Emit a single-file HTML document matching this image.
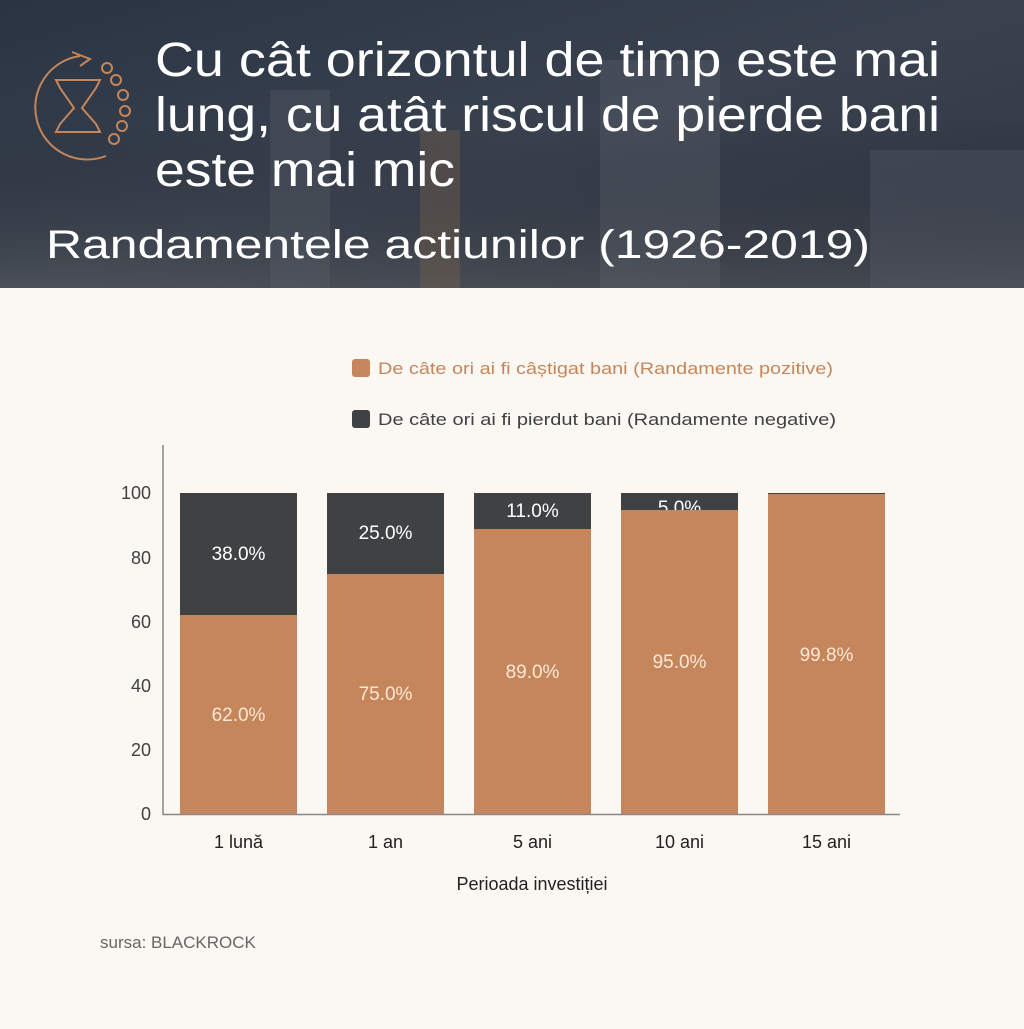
<!DOCTYPE html>
<html><head><meta charset="utf-8"><style>
body{margin:0;width:1024px;height:1024px;overflow:hidden;background:#fbf7f3;font-family:"Liberation Sans","DejaVu Sans",sans-serif}
</style></head><body>
<svg width="1024" height="1024" viewBox="0 0 1024 1024" xmlns="http://www.w3.org/2000/svg">
<defs>
<linearGradient id="hg" x1="0" y1="0" x2="1" y2="1">
<stop offset="0" stop-color="#2a3442"/><stop offset="0.5" stop-color="#3a4250"/><stop offset="1" stop-color="#2e3440"/>
</linearGradient>
<linearGradient id="hv" x1="0" y1="0" x2="0" y2="1">
<stop offset="0" stop-color="#000" stop-opacity="0"/><stop offset="1" stop-color="#6a6a6a" stop-opacity="0.35"/>
</linearGradient>
</defs>
<rect x="0" y="0" width="1024" height="288" fill="url(#hg)"/>
<rect x="0" y="120" width="1024" height="168" fill="url(#hv)"/>
<rect x="270" y="90" width="60" height="198" fill="#5a5e66" opacity="0.35"/>
<rect x="420" y="130" width="40" height="158" fill="#8a6a4a" opacity="0.3"/>
<rect x="600" y="60" width="120" height="228" fill="#6a6e76" opacity="0.25"/>
<rect x="870" y="150" width="154" height="138" fill="#5e6470" opacity="0.3"/>
<g fill="none" stroke="#c4865a" stroke-width="2">
<path d="M80 56 A52 52 0 1 0 106 156"/>
<path d="M72 52 L90 59 L80 66"/>
<path d="M56 80 L100 80 L96 88 L82 108 L96 124 L100 132 L56 132 L60 124 L74 108 L60 88 Z"/>
<circle cx="107" cy="68" r="5"/><circle cx="116" cy="80" r="5"/><circle cx="123" cy="95" r="5"/><circle cx="125" cy="111" r="5"/><circle cx="122" cy="126" r="5"/><circle cx="114" cy="139" r="5"/>
</g>
<g fill="#ffffff" font-size="48">
<text x="155" y="76" textLength="785" lengthAdjust="spacingAndGlyphs">Cu cât orizontul de timp este mai</text>
<text x="155" y="131" textLength="785" lengthAdjust="spacingAndGlyphs">lung, cu atât riscul de pierde bani</text>
<text x="155" y="186" textLength="300" lengthAdjust="spacingAndGlyphs">este mai mic</text>
</g>
<text x="46" y="258" fill="#ffffff" font-size="40" textLength="824" lengthAdjust="spacingAndGlyphs">Randamentele actiunilor (1926-2019)</text>

<rect x="352" y="359" width="18" height="18" rx="3" fill="#c4865a"/>
<text x="378" y="374" font-size="17" fill="#c4865a" textLength="455" lengthAdjust="spacingAndGlyphs">De câte ori ai fi câștigat bani (Randamente pozitive)</text>
<rect x="352" y="410" width="18" height="18" rx="3" fill="#3f4143"/>
<text x="378" y="425" font-size="17" fill="#3f4143" textLength="458" lengthAdjust="spacingAndGlyphs">De câte ori ai fi pierdut bani (Randamente negative)</text>

<g font-size="18" fill="#3f4143" text-anchor="end">
<text x="151" y="820">0</text><text x="151" y="756">20</text><text x="151" y="692">40</text>
<text x="151" y="628">60</text><text x="151" y="564">80</text><text x="151" y="499">100</text>
</g>

<g>
<rect x="180" y="493" width="117" height="122" fill="#3f4143"/>
<rect x="180" y="615" width="117" height="199" fill="#c4865a"/>
<rect x="327" y="493" width="117" height="81" fill="#3f4143"/>
<rect x="327" y="574" width="117" height="240" fill="#c4865a"/>
<rect x="474" y="493" width="117" height="36" fill="#3f4143"/>
<rect x="474" y="529" width="117" height="285" fill="#c4865a"/>
<rect x="621" y="493" width="117" height="17" fill="#3f4143"/>
<text x="679.5" y="514" font-size="19" fill="#fff" text-anchor="middle">5.0%</text>
<rect x="621" y="510" width="117" height="304" fill="#c4865a"/>
<rect x="768" y="493" width="117" height="1" fill="#3f4143"/>
<rect x="768" y="494" width="117" height="320" fill="#c4865a"/>
</g>
<g font-size="19" text-anchor="middle">
<text x="238.5" y="560" fill="#fff">38.0%</text>
<text x="238.5" y="721" fill="#fbe8d6">62.0%</text>
<text x="385.5" y="539" fill="#fff">25.0%</text>
<text x="385.5" y="700" fill="#fbe8d6">75.0%</text>
<text x="532.5" y="517" fill="#fff">11.0%</text>
<text x="532.5" y="678" fill="#fbe8d6">89.0%</text>
<text x="679.5" y="668" fill="#fbe8d6">95.0%</text>
<text x="826.5" y="661" fill="#fbe8d6">99.8%</text>
</g>
<line x1="163" y1="445" x2="163" y2="815" stroke="#888" stroke-width="1.5"/>
<line x1="163" y1="814.5" x2="900" y2="814.5" stroke="#888" stroke-width="1.5"/>
<g font-size="18" fill="#222" text-anchor="middle">
<text x="238.5" y="848">1 lună</text><text x="385.5" y="848">1 an</text><text x="532.5" y="848">5 ani</text>
<text x="679.5" y="848">10 ani</text><text x="826.5" y="848">15 ani</text>
<text x="532" y="890">Perioada investiției</text>
</g>
<text x="100" y="948" font-size="17" fill="#666">sursa: BLACKROCK</text>
</svg>
</body></html>
